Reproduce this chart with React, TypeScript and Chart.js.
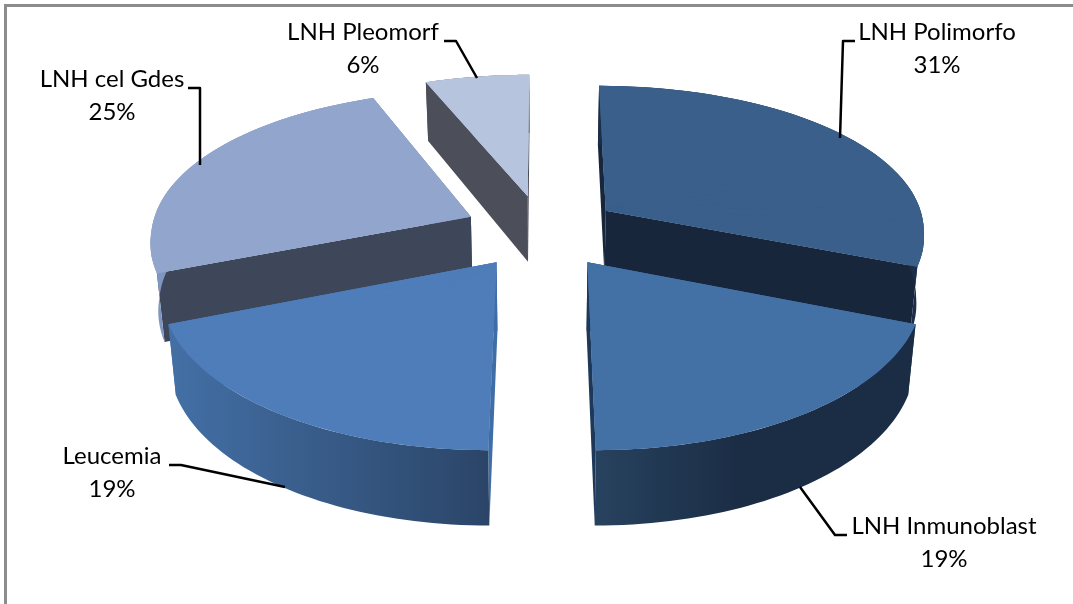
import React, { useEffect, useRef } from "react";
import { Chart, registerables, ArcElement } from "chart.js";

Chart.register(...registerables);

// Series
const categories = ["LNH Polimorfo", "LNH Inmunoblast", "Leucemia", "LNH cel Gdes", "LNH Pleomorf"];
const shares = [31, 19, 19, 25, 6];

// Styles per slice
const faceColors = ["#3a5f8b", "#4371a6", "#4e7db9", "#92a6cd", "#b7c4de"];
const cutColors = ["#17263a", "#1d3859", "#3f6ea6", "#3e4759", "#4c4f59"];
const rimColors = [
  ["#1b2d48", "#1b2d48"],
  ["#27425f", "#1b2d45"],
  ["#436fa5", "#2b4568"],
  ["#7f97c0", "#7f97c0"],
  ["#4c4f59", "#4c4f59"],
];
const rimStops = [
  [600, 925],
  [595, 740],
  [175, 488],
  [150, 470],
  [425, 530],
];
// Far slices first so nearer ones paint over them
const paintOrder = [4, 0, 3, 1, 2];

// Label layout: centre x, first baseline, leader polyline
const labelCenters = [937, 944, 112, 112, 363];
const labelBaselines = [40, 534, 464, 87, 40];
const leaders = [
  [[855, 41], [843, 41], [840, 138]],
  [[847, 535], [835, 535], [800, 487]],
  [[169, 465], [181, 465], [285, 487]],
  [[188, 88], [200, 88], [200, 165]],
  [[444, 41], [456, 41], [477, 78]],
];

// Projection of the tilted disc
const view = { cx: 542, cy: 232, a: 320, b: 149.5, c: -1, k: 0.15, kFar: 0.12, depth: 67, depthTilt: 7, shrink: 0.98, explode: 0.245 };

function project(u: number, v: number, lower = false) {
  const s = 1 / (1 - view.k * v);
  const sx = 1 / (1 - (v > 0 ? view.k : view.kFar) * v);
  return {
    x: view.cx + view.a * u * sx * (lower ? view.shrink : 1),
    y: view.cy + (view.b * v + view.c) * s + (lower ? view.depth + view.depthTilt * v : 0),
  };
}

function sliceGeometry(arc: any) {
  const mid = (arc.startAngle + arc.endAngle) / 2;
  const ou = Math.cos(mid) * view.explode;
  const ov = Math.sin(mid) * view.explode;
  const rim = (angle: number, lower = false) => project(ou + Math.cos(angle), ov + Math.sin(angle), lower);
  const tip = (lower = false) => project(ou, ov, lower);
  return { rim, tip };
}

function drawQuad(ctx: CanvasRenderingContext2D, pts: { x: number; y: number }[], fill: string | CanvasGradient) {
  ctx.beginPath();
  pts.forEach((p, i) => (i ? ctx.lineTo(p.x, p.y) : ctx.moveTo(p.x, p.y)));
  ctx.closePath();
  ctx.fillStyle = fill;
  ctx.fill();
}

function drawWalls(ctx: CanvasRenderingContext2D, arc: any, i: number) {
  const { rim, tip } = sliceGeometry(arc);
  const start = arc.startAngle;
  const end = arc.endAngle;
  for (const edge of [start, end]) {
    drawQuad(ctx, [tip(), tip(true), rim(edge, true), rim(edge)], cutColors[i]);
  }
  const grad = ctx.createLinearGradient(rimStops[i][0], 0, rimStops[i][1], 0);
  grad.addColorStop(0, rimColors[i][0]);
  grad.addColorStop(1, rimColors[i][1]);
  const upper = [];
  const lower = [];
  const steps = 48;
  for (let n = 0; n <= steps; n++) {
    const t = start + ((end - start) * n) / steps;
    upper.push(rim(t));
    lower.unshift(rim(t, true));
  }
  drawQuad(ctx, [...upper, ...lower], grad);
}

// The arc element paints the top face, wedge by wedge, each under its own affine map
function drawFace(ctx: CanvasRenderingContext2D, arc: any) {
  const { rim, tip } = sliceGeometry(arc);
  const { startAngle, endAngle, circumference, x, y, outerRadius: r } = arc;
  const wedges = Math.max(4, Math.ceil((circumference / Math.PI) * 30));
  const s0 = tip();

  // Underlay in the face colour keeps the joints between wedges from showing
  const outline = [s0];
  for (let n = 0; n <= wedges; n++) outline.push(rim(startAngle + (circumference * n) / wedges));
  drawQuad(ctx, outline, arc.options.backgroundColor);

  for (let n = 0; n < wedges; n++) {
    const a1 = startAngle + (circumference * n) / wedges;
    const a2 = startAngle + (circumference * (n + 1)) / wedges;
    const p1 = rim(a1);
    const p2 = rim(a2);
    const e1x = r * Math.cos(a1), e1y = r * Math.sin(a1);
    const e2x = r * Math.cos(a2), e2y = r * Math.sin(a2);
    const det = e1x * e2y - e2x * e1y;
    const f1x = p1.x - s0.x, f1y = p1.y - s0.y;
    const f2x = p2.x - s0.x, f2y = p2.y - s0.y;
    const m11 = (f1x * e2y - f2x * e1y) / det;
    const m12 = (-f1x * e2x + f2x * e1x) / det;
    const m21 = (f1y * e2y - f2y * e1y) / det;
    const m22 = (-f1y * e2x + f2y * e1x) / det;
    ctx.save();
    ctx.transform(m11, m21, m12, m22, s0.x - m11 * x - m12 * y, s0.y - m21 * x - m22 * y);
    arc.startAngle = a1;
    arc.endAngle = a2;
    arc.circumference = a2 - a1;
    ArcElement.prototype.draw.call(arc, ctx);
    ctx.restore();
  }
  arc.startAngle = startAngle;
  arc.endAngle = endAngle;
  arc.circumference = circumference;
}

const pie3d = {
  id: "pie3d",
  beforeDatasetsDraw(chart: any) {
    const ctx: CanvasRenderingContext2D = chart.ctx;
    const arcs = chart.getDatasetMeta(0).data;

    ctx.save();
    ctx.fillStyle = "#8c8c8c";
    ctx.fillRect(4, 4, 1069, 3);
    ctx.fillRect(4, 4, 3, 600);

    for (const i of paintOrder) {
      drawWalls(ctx, arcs[i], i);
      drawFace(ctx, arcs[i]);
    }

    ctx.strokeStyle = "#000000";
    ctx.lineWidth = 2.5;
    ctx.lineJoin = "round";
    leaders.forEach((line) => {
      ctx.beginPath();
      line.forEach(([x, y], n) => (n ? ctx.lineTo(x, y) : ctx.moveTo(x, y)));
      ctx.stroke();
    });

    ctx.fillStyle = "#000000";
    ctx.font = "24px Lato";
    ctx.textAlign = "center";
    ctx.textBaseline = "alphabetic";
    categories.forEach((name, i) => {
      ctx.fillText(name, labelCenters[i], labelBaselines[i]);
      ctx.fillText(`${shares[i]}%`, labelCenters[i], labelBaselines[i] + 33);
    });
    ctx.restore();
    return false;
  },
};

export default function App() {
  const ref = useRef<HTMLCanvasElement>(null);
  useEffect(() => {
    const chart = new Chart(ref.current!, {
      type: "pie",
      data: {
        labels: categories,
        datasets: [{ data: shares, backgroundColor: faceColors, borderWidth: 0 }],
      },
      options: {
        responsive: false,
        animation: false,
        plugins: { legend: { display: false }, tooltip: { enabled: false } },
      },
      plugins: [pie3d],
    } as any);
    return () => chart.destroy();
  }, []);
  return (
    <div style={{ position: "fixed", left: 0, top: 0, width: 1073, height: 604, background: "#fff" }}>
      <canvas ref={ref} width={1073} height={604} style={{ display: "block" }} />
    </div>
  );
}
